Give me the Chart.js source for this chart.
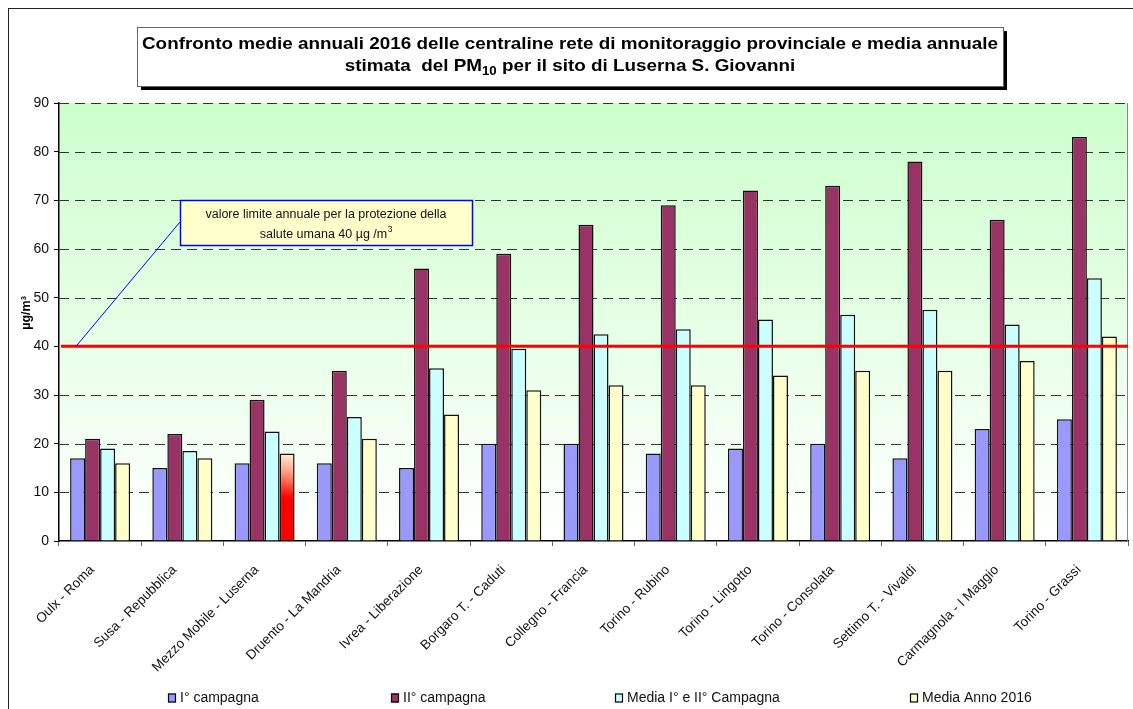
<!DOCTYPE html>
<html>
<head>
<meta charset="utf-8">
<script src="https://cdn.jsdelivr.net/npm/chart.js@4.4.0/dist/chart.umd.min.js"></script>
<style>
  html, body { margin: 0; padding: 0; background: #fff; }
  #wrap { width: 1133px; height: 709px; position: relative; }
</style>
</head>
<body>
<div id="wrap"><canvas id="chart" width="1133" height="709"></canvas></div>
<script>
// Stazioni della rete provinciale e sito di Luserna S. Giovanni (PM10, µg/m³)
const stations = [
  'Oulx - Roma', 'Susa - Repubblica', 'Mezzo Mobile - Luserna', 'Druento - La Mandria',
  'Ivrea - Liberazione', 'Borgaro T. - Caduti', 'Collegno - Francia', 'Torino - Rubino',
  'Torino - Lingotto', 'Torino - Consolata', 'Settimo T. - Vivaldi', 'Carmagnola - I Maggio',
  'Torino - Grassi'
];
const campagna1     = [17, 15, 16, 16, 15, 20, 20, 18, 19, 20, 17, 23, 25];
const campagna2     = [21, 22, 29, 35, 56, 59, 65, 69, 72, 73, 78, 66, 83];
const mediaCampagne = [19, 18.5, 22.5, 25.5, 35.5, 39.5, 42.5, 43.5, 45.5, 46.5, 47.5, 44.5, 54];
const mediaAnno     = [16, 17, 18, 21, 26, 31, 32, 32, 34, 35, 35, 37, 42];
const seriesNames   = ['I° campagna', 'II° campagna', 'Media I° e II° Campagna', 'Media Anno 2016'];
const seriesColors  = ['#9999FF', '#993366', '#CCFFFF', '#FFFFCC'];
const yTickValues   = [0, 10, 20, 30, 40, 50, 60, 70, 80, 90];
const limitValue    = 40;
const highlightStation = 'Mezzo Mobile - Luserna';

const FONT = '"Liberation Sans", Arial, Helvetica, sans-serif';
const CAT_PCT = 0.73;

// gradient fill for the Luserna annual-mean bar, placed from the scales
function highlightFill(ctx) {
  const chart = ctx.chart;
  if (ctx.type !== 'data' || stations[ctx.dataIndex] !== highlightStation) {
    return seriesColors[ctx.datasetIndex];
  }
  const { x, y } = chart.scales;
  if (!x || !y) return '#FF0000';
  const n = stations.length;
  const barW = (x.width / n) * CAT_PCT / 4;
  const cx = x.getPixelForValue(ctx.dataIndex) + 1.5 * barW;
  const top = y.getPixelForValue(ctx.raw);
  const base = y.getPixelForValue(0);
  const h = base - top;
  const g = chart.ctx.createLinearGradient(cx + barW / 2, top, cx - barW * 0.1, top + h * 0.5);
  g.addColorStop(0, '#FFF6E2');
  g.addColorStop(0.45, '#FF9F80');
  g.addColorStop(1, '#FF0000');
  return g;
}

const decorations = {
  id: 'decorations',
  beforeDraw(chart) {
    const { ctx, chartArea: a, width, height } = chart;
    ctx.save();
    ctx.fillStyle = '#fff';
    ctx.fillRect(0, 0, width, height);
    // plot area background
    const bg = ctx.createLinearGradient(0, a.top, 0, a.bottom);
    bg.addColorStop(0, '#CCFFCC');
    bg.addColorStop(1, '#FFFFFF');
    ctx.fillStyle = bg;
    ctx.fillRect(a.left, a.top, a.right - a.left, a.bottom - a.top);
    // outer frame
    ctx.strokeStyle = '#222';
    ctx.lineWidth = 1;
    ctx.strokeRect(8.5, 8.5, width + 20, height + 20);
    ctx.restore();
  },
  beforeDatasetsDraw(chart) {
    const { ctx, chartArea: a, scales: { y } } = chart;
    ctx.save();
    ctx.strokeStyle = '#333';
    ctx.lineWidth = 1;
    ctx.setLineDash([10, 6]);
    yTickValues.forEach(v => {
      if (v === 0 || v === limitValue) return;
      const py = Math.round(y.getPixelForValue(v)) + 0.5;
      ctx.beginPath();
      ctx.moveTo(a.left, py);
      ctx.lineTo(a.right, py);
      ctx.stroke();
    });
    ctx.setLineDash([]);
    ctx.strokeStyle = '#888';
    ctx.beginPath();
    ctx.moveTo(a.right - 0.5, a.top);
    ctx.lineTo(a.right - 0.5, a.bottom);
    ctx.stroke();
    ctx.restore();
  },
  afterDatasetsDraw(chart) {
    const { ctx, chartArea: a, scales: { y } } = chart;
    const ly = y.getPixelForValue(limitValue);
    ctx.save();
    // limit line
    ctx.strokeStyle = '#FF0000';
    ctx.lineWidth = 3;
    ctx.beginPath();
    ctx.moveTo(a.left + 2, ly);
    ctx.lineTo(a.right, ly);
    ctx.stroke();
    // callout box
    const bx = a.left + 121, by = Math.round(y.getPixelForValue(70)), bw = 292, bh = 45;
    ctx.strokeStyle = '#0000FF';
    ctx.lineWidth = 1;
    ctx.beginPath();
    ctx.moveTo(a.left + 17, ly);
    ctx.lineTo(bx, by + 22);
    ctx.stroke();
    ctx.fillStyle = '#FFFFCC';
    ctx.fillRect(bx, by, bw, bh);
    ctx.lineWidth = 1.5;
    ctx.strokeRect(bx + 0.5, by + 0.5, bw, bh);
    ctx.fillStyle = '#111';
    ctx.textBaseline = 'alphabetic';
    ctx.font = '12.5px ' + FONT;
    ctx.textAlign = 'center';
    const cx = bx + bw / 2;
    ctx.fillText('valore limite annuale per la protezione della', cx, by + 18);
    const l2 = 'salute umana ' + limitValue + ' µg /m';
    const w2 = ctx.measureText(l2).width;
    ctx.textAlign = 'left';
    const sx = cx - (w2 + 5) / 2;
    ctx.fillText(l2, sx, by + 38);
    ctx.font = '8.5px ' + FONT;
    ctx.fillText('3', sx + w2 + 0.5, by + 32);
    ctx.restore();
  },
  afterDraw(chart) {
    const { ctx, chartArea: a } = chart;
    ctx.save();
    // y-axis unit label
    ctx.save();
    ctx.translate(27, (a.top + a.bottom) / 2 - 9);
    ctx.rotate(-Math.PI / 2);
    ctx.fillStyle = '#000';
    ctx.textAlign = 'center';
    ctx.textBaseline = 'middle';
    ctx.font = 'bold 12.5px ' + FONT;
    ctx.fillText('µg/m³', 0, 0);
    ctx.restore();
    // title box with shadow
    const tx = 137, ty = 27, tw = 866, th = 59;
    ctx.fillStyle = '#000';
    ctx.fillRect(tx + 4, ty + 4, tw, th);
    ctx.fillStyle = '#fff';
    ctx.fillRect(tx, ty, tw, th);
    ctx.strokeStyle = '#666';
    ctx.lineWidth = 1;
    ctx.strokeRect(tx + 0.5, ty + 0.5, tw, th);
    ctx.fillStyle = '#000';
    const cx = tx + tw / 2;
    const line1 = 'Confronto medie annuali 2016 delle centraline rete di monitoraggio provinciale e media annuale';
    ctx.font = 'bold 17px ' + FONT;
    const stretch = 856 / ctx.measureText(line1).width;
    ctx.translate(cx, 0);
    ctx.scale(stretch, 1);
    ctx.textAlign = 'center';
    ctx.textBaseline = 'alphabetic';
    ctx.fillText(line1, 0, ty + 22);
    // second line with PM10 subscript
    const a1 = 'stimata  del PM', sub = '10', a2 = ' per il sito di Luserna S. Giovanni';
    ctx.textAlign = 'left';
    const w1 = ctx.measureText(a1).width, w3 = ctx.measureText(a2).width;
    ctx.font = 'bold 12px ' + FONT;
    const ws = ctx.measureText(sub).width;
    const x0 = -(w1 + ws + w3) / 2;
    ctx.font = 'bold 17px ' + FONT;
    ctx.fillText(a1, x0, ty + 44);
    ctx.font = 'bold 12px ' + FONT;
    ctx.fillText(sub, x0 + w1, ty + 48);
    ctx.font = 'bold 17px ' + FONT;
    ctx.fillText(a2, x0 + w1 + ws, ty + 44);
    ctx.setTransform(1, 0, 0, 1, 0, 0);
    // legend
    const lx = [168, 391, 615, 910];
    ctx.font = '14px ' + FONT;
    ctx.textBaseline = 'middle';
    ctx.textAlign = 'left';
    seriesNames.forEach((name, i) => {
      const x = lx[i], yy = 698;
      ctx.fillStyle = seriesColors[i];
      ctx.fillRect(x, yy - 4.5, 8, 9);
      ctx.strokeStyle = '#000';
      ctx.lineWidth = 1.2;
      ctx.strokeRect(x + 0.5, yy - 4, 7, 8);
      ctx.fillStyle = '#111';
      ctx.fillText(name, x + 12, yy);
    });
    ctx.restore();
  }
};

const datasets = [campagna1, campagna2, mediaCampagne, mediaAnno].map((data, i) => ({
  label: seriesNames[i],
  data,
  backgroundColor: i === 3 ? highlightFill : seriesColors[i],
  borderColor: '#111',
  borderWidth: 1.5,
  borderSkipped: 'bottom',
  barPercentage: 1,
  categoryPercentage: CAT_PCT
}));

new Chart(document.getElementById('chart'), {
  type: 'bar',
  data: { labels: stations, datasets },
  plugins: [decorations],
  options: {
    responsive: false,
    animation: false,
    devicePixelRatio: 1,
    layout: { padding: { left: 0, top: 103, right: 5, bottom: 0 } },
    plugins: { legend: { display: false }, title: { display: false }, tooltip: { enabled: false } },
    scales: {
      x: {
        afterFit(scale) { scale.height = 168; },
        grid: { offset: true, drawOnChartArea: false, drawTicks: true, tickLength: 5, tickColor: '#666' },
        border: { display: true, color: '#000', width: 1.5 },
        ticks: {
          autoSkip: false, maxRotation: 45, minRotation: 45, padding: 16, labelOffset: -8,
          color: '#111', font: { family: FONT, size: 13.5 }
        }
      },
      y: {
        min: 0, max: 90,
        afterFit(scale) { scale.width = 59; },
        afterBuildTicks(scale) { scale.ticks = yTickValues.map(v => ({ value: v })); },
        grid: { drawOnChartArea: false, drawTicks: true, tickLength: 5, tickColor: '#000' },
        border: { display: true, color: '#000', width: 1.5 },
        ticks: { padding: 5, color: '#111', font: { family: FONT, size: 14 } }
      }
    }
  }
});
</script>
</body>
</html>
